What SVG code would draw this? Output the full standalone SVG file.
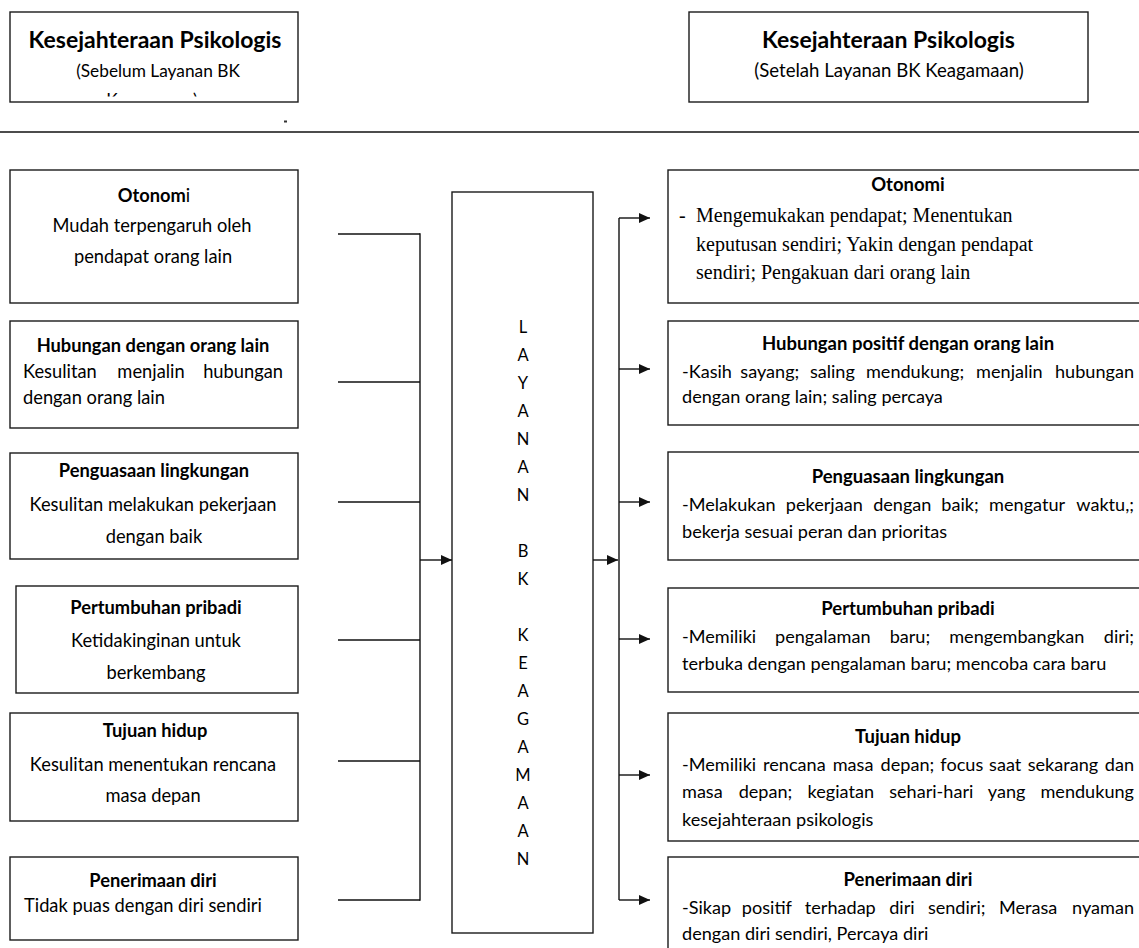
<svg xmlns="http://www.w3.org/2000/svg" width="1139" height="948" viewBox="0 0 1139 948">
<style>
.box{fill:#fff;stroke:#1a1a1a;stroke-width:1.4}
.ln{fill:none;stroke:#111;stroke-width:1.4}
.t{font-family:Lato,"Open Sans","Liberation Sans",sans-serif;fill:#000}
.hb{font-size:23px;font-weight:bold;text-anchor:middle}
.hs{font-size:17.3px;text-anchor:middle}
.hs2{font-size:18.6px;text-anchor:middle}
.lt{font-size:18.3px;font-weight:bold;text-anchor:middle}
.lb{font-size:18.3px;text-anchor:middle}
.lbs{font-size:18.3px}
.rt{font-size:18.5px;font-weight:bold;text-anchor:middle}
.rb{font-size:18.1px}
.m{text-anchor:middle}
.e{text-anchor:end}
.tm{font-family:"Liberation Serif","Times New Roman",serif;font-size:20px;fill:#000}
.cl{font-size:16.5px;text-anchor:middle}
</style>
<defs>
<marker id="ah" markerUnits="userSpaceOnUse" markerWidth="12" markerHeight="11" refX="11" refY="5" orient="auto">
<path d="M0,0 L11,5 L0,10 z" fill="#111"/>
</marker>
<clipPath id="clipH"><rect x="0" y="0" width="300" height="96.5"/></clipPath>
</defs>

<g id="header-left">
<rect class="box" x="10" y="12" width="288" height="90"/>
<text class="t hb" x="155" y="48">Kesejahteraan Psikologis</text>
<text class="t hs" x="158" y="77">(Sebelum Layanan BK</text>
<text class="t hs" x="152" y="106" clip-path="url(#clipH)">Keagamaan)</text>
</g>
<rect x="284" y="120.5" width="3" height="2" fill="#333"/>

<g id="header-right">
<rect class="box" x="689" y="12" width="399" height="90"/>
<text class="t hb" x="888.5" y="48">Kesejahteraan Psikologis</text>
<text class="t hs2" x="889" y="77">(Setelah Layanan BK Keagamaan)</text>
</g>

<line class="ln" x1="0" y1="132" x2="1139" y2="132"/>

<g id="left-otonomi">
<rect class="box" x="10" y="170" width="288" height="133"/>
<text class="t lt" x="154" y="202"><tspan>Otonom</tspan><tspan font-weight="normal">i</tspan></text>
<text class="t lb" x="152" y="232">Mudah terpengaruh oleh</text>
<text class="t lb" x="153" y="263">pendapat orang lain</text>
</g>

<g id="left-hubungan">
<rect class="box" x="10" y="321" width="288" height="107"/>
<text class="t lt" x="153" y="352">Hubungan dengan orang lain</text>
<text class="t lbs" x="23" y="378">Kesulitan</text>
<text class="t lbs m" x="151" y="378">menjalin</text>
<text class="t lbs e" x="283" y="378">hubungan</text>
<text class="t lbs" x="23" y="404">dengan orang lain</text>
</g>

<g id="left-penguasaan">
<rect class="box" x="10" y="453" width="288" height="106"/>
<text class="t lt" x="154" y="477">Penguasaan lingkungan</text>
<text class="t lb" x="153" y="511">Kesulitan melakukan pekerjaan</text>
<text class="t lb" x="154" y="543">dengan baik</text>
</g>

<g id="left-pertumbuhan">
<rect class="box" x="16" y="586" width="282" height="107"/>
<text class="t lt" x="156" y="614">Pertumbuhan pribadi</text>
<text class="t lb" x="156" y="647">Ketidakinginan untuk</text>
<text class="t lb" x="156" y="679">berkembang</text>
</g>

<g id="left-tujuan">
<rect class="box" x="10" y="713" width="288" height="108"/>
<text class="t lt" x="155" y="737">Tujuan hidup</text>
<text class="t lb" x="153" y="771">Kesulitan menentukan rencana</text>
<text class="t lb" x="153" y="802">masa depan</text>
</g>

<g id="left-penerimaan">
<rect class="box" x="10" y="857" width="288" height="83"/>
<text class="t lt" x="153" y="887">Penerimaan diri</text>
<text class="t lbs" x="24" y="912">Tidak puas dengan diri sendiri</text>
</g>

<g id="center-layanan">
<rect class="box" x="452" y="192" width="141" height="741"/>
<text class="t cl" x="523" y="333">L</text>
<text class="t cl" x="523" y="361">A</text>
<text class="t cl" x="523" y="389">Y</text>
<text class="t cl" x="523" y="417">A</text>
<text class="t cl" x="523" y="445">N</text>
<text class="t cl" x="523" y="473">A</text>
<text class="t cl" x="523" y="501">N</text>
<text class="t cl" x="523" y="557">B</text>
<text class="t cl" x="523" y="585">K</text>
<text class="t cl" x="523" y="641">K</text>
<text class="t cl" x="523" y="669">E</text>
<text class="t cl" x="523" y="697">A</text>
<text class="t cl" x="523" y="725">G</text>
<text class="t cl" x="523" y="753">A</text>
<text class="t cl" x="523" y="781">M</text>
<text class="t cl" x="523" y="809">A</text>
<text class="t cl" x="523" y="837">A</text>
<text class="t cl" x="523" y="865">N</text>
</g>

<g id="right-otonomi">
<rect class="box" x="668" y="170" width="490" height="133"/>
<text class="t rt" x="908" y="191">Otonomi</text>
<text class="tm" x="679" y="222">-</text>
<text class="tm" x="696" y="222">Mengemukakan pendapat; Menentukan</text>
<text class="tm" x="696" y="251">keputusan sendiri; Yakin dengan pendapat</text>
<text class="tm" x="696" y="279">sendiri; Pengakuan dari orang lain</text>
</g>

<g id="right-hubungan">
<rect class="box" x="668" y="321" width="490" height="104"/>
<text class="t rt" x="908" y="350">Hubungan positif dengan orang lain</text>
<text class="t rb" x="682" y="378">-Kasih</text>
<text class="t rb m" x="769.8" y="378">sayang;</text>
<text class="t rb m" x="832.4" y="378">saling</text>
<text class="t rb m" x="915.1" y="378">mendukung;</text>
<text class="t rb m" x="1009.4" y="378">menjalin</text>
<text class="t rb e" x="1134" y="378">hubungan</text>
<text class="t rb" x="682" y="403">dengan orang lain; saling percaya</text>
</g>

<g id="right-penguasaan">
<rect class="box" x="668" y="452" width="490" height="108"/>
<text class="t rt" x="908" y="483">Penguasaan lingkungan</text>
<text class="t rb" x="682" y="511">-Melakukan</text>
<text class="t rb m" x="824.3" y="511">pekerjaan</text>
<text class="t rb m" x="902.3" y="511">dengan</text>
<text class="t rb m" x="960" y="511">baik;</text>
<text class="t rb m" x="1027.1" y="511">mengatur</text>
<text class="t rb e" x="1134" y="511">waktu,;</text>
<text class="t rb" x="682" y="538">bekerja sesuai peran dan prioritas</text>
</g>

<g id="right-pertumbuhan">
<rect class="box" x="668" y="588" width="490" height="104"/>
<text class="t rt" x="908" y="615">Pertumbuhan pribadi</text>
<text class="t rb" x="682" y="643">-Memiliki</text>
<text class="t rb m" x="822.8" y="643">pengalaman</text>
<text class="t rb m" x="909.9" y="643">baru;</text>
<text class="t rb m" x="1016.8" y="643">mengembangkan</text>
<text class="t rb e" x="1134" y="643">diri;</text>
<text class="t rb" x="682" y="670">terbuka dengan pengalaman baru; mencoba cara baru</text>
</g>

<g id="right-tujuan">
<rect class="box" x="668" y="713" width="490" height="128"/>
<text class="t rt" x="908" y="743">Tujuan hidup</text>
<text class="t rb" x="682" y="771">-Memiliki</text>
<text class="t rb m" x="794.4" y="771">rencana</text>
<text class="t rb m" x="853.1" y="771">masa</text>
<text class="t rb m" x="907.4" y="771">depan;</text>
<text class="t rb m" x="961.8" y="771">focus</text>
<text class="t rb m" x="1005.2" y="771">saat</text>
<text class="t rb m" x="1062.9" y="771">sekarang</text>
<text class="t rb e" x="1134" y="771">dan</text>
<text class="t rb" x="682" y="798">masa</text>
<text class="t rb m" x="765.5" y="798">depan;</text>
<text class="t rb m" x="840.8" y="798">kegiatan</text>
<text class="t rb m" x="931.3" y="798">sehari-hari</text>
<text class="t rb m" x="1006.6" y="798">yang</text>
<text class="t rb e" x="1134" y="798">mendukung</text>
<text class="t rb" x="682" y="826">kesejahteraan psikologis</text>
</g>

<g id="right-penerimaan">
<rect class="box" x="668" y="857" width="490" height="110"/>
<text class="t rt" x="908" y="886">Penerimaan diri</text>
<text class="t rb" x="682" y="914">-Sikap</text>
<text class="t rb m" x="766.9" y="914">positif</text>
<text class="t rb m" x="840.3" y="914">terhadap</text>
<text class="t rb m" x="901.9" y="914">diri</text>
<text class="t rb m" x="956.7" y="914">sendiri;</text>
<text class="t rb m" x="1028.2" y="914">Merasa</text>
<text class="t rb e" x="1134" y="914">nyaman</text>
<text class="t rb" x="682" y="940">dengan diri sendiri, Percaya diri</text>
</g>

<g id="connectors">
<line class="ln" x1="338" y1="234" x2="420" y2="234"/>
<line class="ln" x1="338" y1="382" x2="420" y2="382"/>
<line class="ln" x1="338" y1="502" x2="420" y2="502"/>
<line class="ln" x1="338" y1="640" x2="420" y2="640"/>
<line class="ln" x1="338" y1="761" x2="420" y2="761"/>
<line class="ln" x1="338" y1="900" x2="420" y2="900"/>
<line class="ln" x1="420" y1="233.3" x2="420" y2="900.7"/>
<line class="ln" x1="420" y1="560" x2="452" y2="560" marker-end="url(#ah)"/>
<line class="ln" x1="593" y1="560" x2="618" y2="560" marker-end="url(#ah)"/>
<line class="ln" x1="619" y1="218" x2="619" y2="900"/>
<line class="ln" x1="619" y1="218" x2="650" y2="218" marker-end="url(#ah)"/>
<line class="ln" x1="619" y1="369" x2="650" y2="369" marker-end="url(#ah)"/>
<line class="ln" x1="619" y1="502" x2="650" y2="502" marker-end="url(#ah)"/>
<line class="ln" x1="619" y1="639" x2="650" y2="639" marker-end="url(#ah)"/>
<line class="ln" x1="619" y1="775" x2="650" y2="775" marker-end="url(#ah)"/>
<line class="ln" x1="619" y1="900" x2="650" y2="900" marker-end="url(#ah)"/>
</g>
</svg>
